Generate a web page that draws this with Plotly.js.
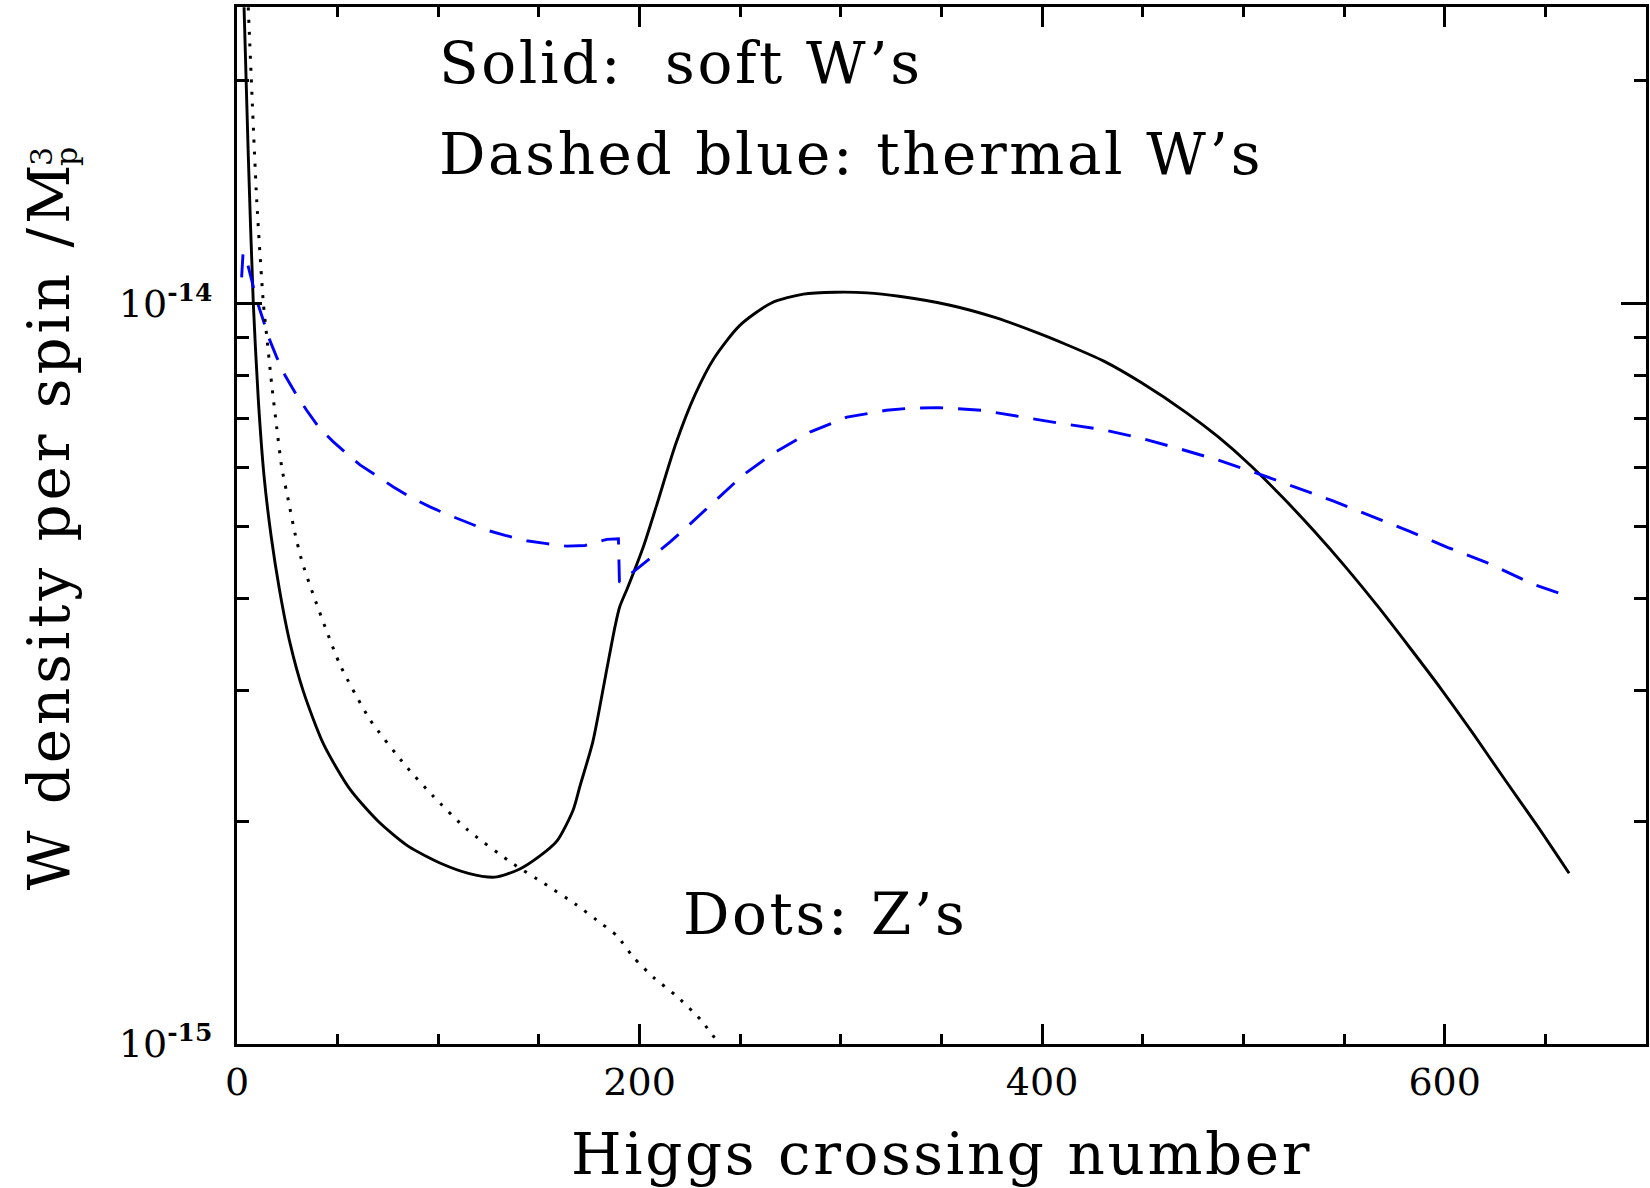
<!DOCTYPE html>
<html>
<head>
<meta charset="utf-8">
<script src="https://cdn.plot.ly/plotly-3.0.1.min.js"></script>
<style>
  html, body { margin: 0; padding: 0; background: #fff; }
  #chart { width: 1650px; height: 1188px; }
  .annotation-text, .g-xtitle text { letter-spacing: 2.6px; }
  .g-ytitle text { letter-spacing: 3.9px; }
</style>
</head>
<body>
<div id="chart"></div>
<script>
// ---- data ----
const solidX = [3.5, 5.6, 8.1, 10.6, 13.5, 17, 21, 26, 33, 43, 56, 70, 85, 102, 115,
  128, 140, 150, 159, 167, 170.4, 176.8, 183.1, 187.8, 190.1, 194.2, 202.1, 208.5, 218.0, 227.5,
  237.0, 249.7, 265.5, 281.4, 297.2, 313.1, 328.9, 354.3, 376.5, 398.7, 411.4, 430.4, 449.4, 471.6,
  487.5, 503.3, 519.2, 535.0, 550.9, 566.7, 582.6, 598.4, 614.3, 630.1, 646.0, 661.8];
const solidY = [25.1e-15, 15.85e-15, 10.0e-15, 7.40e-15, 5.82e-15, 4.84e-15, 4.12e-15, 3.51e-15, 2.99e-15, 2.54e-15,
  2.21e-15, 2.00e-15, 1.85e-15, 1.75e-15, 1.70e-15, 1.68e-15, 1.72e-15, 1.79e-15, 1.88e-15, 2.07e-15,
  2.23e-15, 2.56e-15, 3.14e-15, 3.66e-15, 3.89e-15, 4.14e-15, 4.71e-15, 5.34e-15, 6.46e-15, 7.52e-15,
  8.43e-15, 9.33e-15, 10.01e-15, 10.29e-15, 10.35e-15, 10.33e-15, 10.22e-15, 9.94e-15, 9.57e-15, 9.10e-15,
  8.81e-15, 8.36e-15, 7.81e-15, 7.12e-15, 6.60e-15, 6.05e-15, 5.48e-15, 4.93e-15, 4.40e-15, 3.90e-15,
  3.43e-15, 3.01e-15, 2.62e-15, 2.27e-15, 1.97e-15, 1.70e-15];

const dashX = [2.3, 3.0, 4.8, 7.3, 9.8, 13.1, 15.6, 19.7, 23.9, 29.7, 34.6, 41.2, 47.9, 55.3, 61.1,
  70.2, 77.7, 86.8, 95.9, 105.0, 114.1, 124.1, 133.2, 143.9, 153.0, 163.8, 172.9, 183.7, 189.5, 190.0,
  198.6, 206.1, 215.2, 221.1, 229.1, 243.3, 251.3, 265.5, 284.6, 303.0, 322.6, 335.3, 348.8, 370.2, 389.1,
  409.8, 430.4, 449.4, 468.4, 487.5, 506.5, 525.5, 544.5, 563.5, 582.6, 601.6, 620.6, 644.4, 661.9];
const dashY = [10.84e-15, 11.69e-15, 11.43e-15, 10.74e-15, 10.09e-15, 9.48e-15, 9.01e-15, 8.46e-15, 7.99e-15, 7.51e-15,
  7.17e-15, 6.77e-15, 6.50e-15, 6.24e-15, 6.05e-15, 5.83e-15, 5.65e-15, 5.46e-15, 5.31e-15, 5.18e-15,
  5.07e-15, 4.94e-15, 4.86e-15, 4.78e-15, 4.74e-15, 4.70e-15, 4.71e-15, 4.80e-15, 4.81e-15, 4.20e-15,
  4.375e-15, 4.545e-15, 4.764e-15, 4.92e-15, 5.15e-15, 5.60e-15, 5.86e-15, 6.25e-15, 6.70e-15, 7.02e-15,
  7.17e-15, 7.22e-15, 7.23e-15, 7.17e-15, 7.03e-15, 6.88e-15, 6.75e-15, 6.57e-15, 6.36e-15, 6.14e-15,
  5.90e-15, 5.65e-15, 5.41e-15, 5.16e-15, 4.92e-15, 4.68e-15, 4.47e-15, 4.17e-15, 4.02e-15];

const dotX = [5.6, 9.8, 13.1, 14.8, 17.2, 19.7, 22.2, 25.5, 28.8, 32.1, 37.9, 51.2, 66.1, 83.5, 97.5,
  114.1, 137.3, 152.2, 168.8, 178.7, 188.7, 196.9, 206.9, 218.5, 230.1, 238.4];
const dotY = [25.09e-15, 13.77e-15, 10.0e-15, 9.01e-15, 7.79e-15, 6.81e-15, 6.01e-15, 5.42e-15, 4.89e-15, 4.50e-15,
  4.04e-15, 3.25e-15, 2.74e-15, 2.38e-15, 2.16e-15, 1.95e-15, 1.75e-15, 1.65e-15, 1.54e-15, 1.47e-15,
  1.40e-15, 1.31e-15, 1.23e-15, 1.16e-15, 1.08e-15, 1.01e-15];

const xTickVals = [0, 200, 400, 600];
const xTickText = ['0', '200', '400', '600'];
const yTickVals = [1e-15, 1e-14];
const yExponents = ['-15', '-14'];
const yMinorVals = [2e-15, 3e-15, 4e-15, 5e-15, 6e-15, 7e-15, 8e-15, 9e-15, 2e-14];

const labels = {
  solid: 'Solid:\u00a0\u00a0soft W\u2019s',
  dashed: 'Dashed blue: thermal W\u2019s',
  dots: 'Dots: Z\u2019s',
  xTitle: 'Higgs crossing number',
  yTitle: 'W density per spin /M\u2009',
  ySup: '3',
  ySub: 'p'
};

// ---- drawing ----
const FONT = 'DejaVu Serif, Liberation Serif, serif';
const yTickText = yExponents.map(e =>
  '10<sup><span style="font-size:25px;font-weight:bold">' + e + '</span></sup>');

const traces = [
  { x: solidX, y: solidY, type: 'scatter', mode: 'lines', name: 'soft W',
    line: { color: '#000', width: 2.9, shape: 'spline', smoothing: 0.7 } },
  { x: dashX, y: dashY, type: 'scatter', mode: 'lines', name: 'thermal W',
    line: { color: 'rgb(0,0,255)', width: 2.9, dash: '23px,15px' } },
  { x: dotX, y: dotY, type: 'scatter', mode: 'lines', name: 'Z',
    line: { color: '#000', width: 3, dash: '3px,9px', shape: 'spline', smoothing: 0.6 } }
];

const layout = {
  width: 1650, height: 1188,
  margin: { l: 237, r: 4, t: 7, b: 144 },
  paper_bgcolor: '#fff', plot_bgcolor: '#fff',
  showlegend: false,
  font: { family: FONT, color: '#000' },
  xaxis: {
    range: [0, 700], autorange: false,
    showgrid: false, zeroline: false,
    showline: true, linecolor: '#000', linewidth: 3, mirror: 'ticks',
    ticks: 'inside', ticklen: 20, tickwidth: 2.5, tickcolor: '#000',
    tickmode: 'array', tickvals: xTickVals, ticktext: xTickText,
    tickfont: { family: FONT, size: 38, color: '#000' },
    ticklabelstandoff: 2,
    minor: { dtick: 50, tick0: 0, ticks: 'inside', ticklen: 10, tickwidth: 2.5, tickcolor: '#000', showgrid: false },
    automargin: false,
    title: { text: labels.xTitle, font: { family: FONT, size: 58, color: '#000' }, standoff: 38 }
  },
  yaxis: {
    type: 'log', range: [-15, -13.6], autorange: false,
    showgrid: false, zeroline: false,
    showline: true, linecolor: '#000', linewidth: 3, mirror: 'ticks',
    ticks: 'inside', ticklen: 25, tickwidth: 2.5, tickcolor: '#000',
    tickmode: 'array', tickvals: yTickVals, ticktext: yTickText,
    tickfont: { family: FONT, size: 38, color: '#000' },
    ticklabelstandoff: 14,
    minor: { tickmode: 'array', tickvals: yMinorVals, ticks: 'inside', ticklen: 12, tickwidth: 2.5, tickcolor: '#000', showgrid: false },
    automargin: false,
    title: { text: labels.yTitle, font: { family: FONT, size: 58, color: '#000' }, standoff: 31 }
  },
  annotations: [
    { text: labels.solid, xref: 'paper', yref: 'paper', x: 0.142, y: 0.946,
      xanchor: 'left', yanchor: 'middle', showarrow: false,
      font: { family: FONT, size: 58, color: '#000' } },
    { text: labels.dashed, xref: 'paper', yref: 'paper', x: 0.142, y: 0.858,
      xanchor: 'left', yanchor: 'middle', showarrow: false,
      font: { family: FONT, size: 58, color: '#000' } },
    { text: labels.dots, xref: 'paper', yref: 'paper', x: 0.315, y: 0.1254,
      xanchor: 'left', yanchor: 'middle', showarrow: false,
      font: { family: FONT, size: 58, color: '#000' } },
    { text: labels.ySup, xref: 'paper', yref: 'paper', x: -0.1384, y: 0.8573, textangle: -90,
      xanchor: 'center', yanchor: 'middle', showarrow: false,
      font: { family: FONT, size: 30, color: '#000' } },
    { text: labels.ySub, xref: 'paper', yref: 'paper', x: -0.1206, y: 0.8573, textangle: -90,
      xanchor: 'center', yanchor: 'middle', showarrow: false,
      font: { family: FONT, size: 30, color: '#000' } }
  ]
};

Plotly.newPlot('chart', traces, layout, { displayModeBar: false, responsive: false });
</script>
</body>
</html>
